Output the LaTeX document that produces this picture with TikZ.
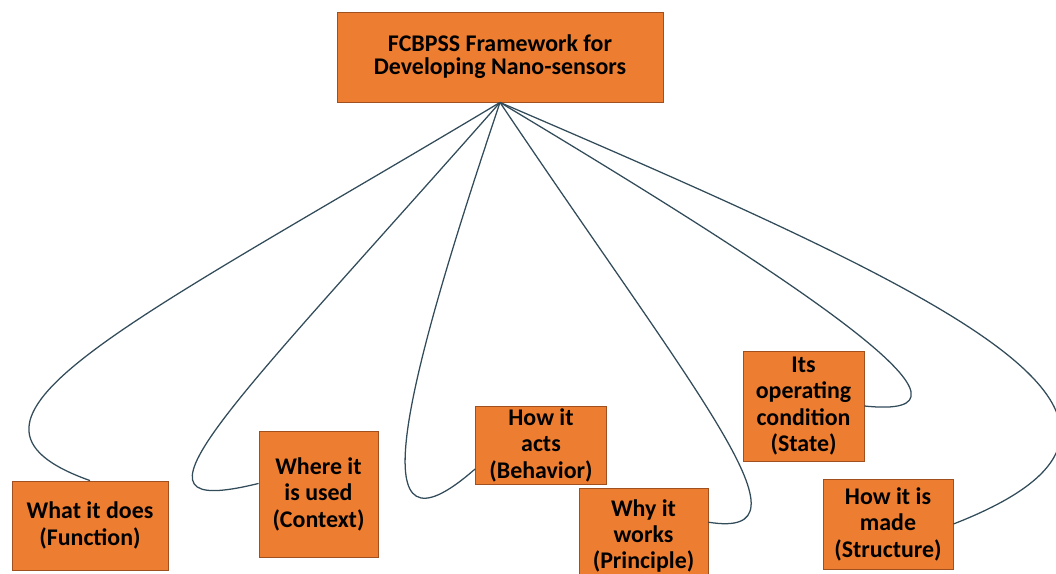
\documentclass[tikz,border=0pt]{standalone}
\usepackage{fontspec}
\setmainfont{Carlito}
\usepackage{tikz}
\definecolor{boxfill}{RGB}{237,125,49}
\definecolor{boxline}{RGB}{160,80,30}
\definecolor{linkcol}{RGB}{50,76,90}
\begin{document}
\begin{tikzpicture}[x=0.025cm,y=-0.025cm,
	fbox/.style={draw=boxline,line width=0.6pt,fill=boxfill,align=center,inner sep=0pt,
		font=\bfseries\fontsize{17}{18.8}\selectfont},
	link/.style={color=linkcol,line width=0.9pt}]
			\useasboundingbox (0,0) rectangle (1056,573);
			% boxes
			\node[fbox,minimum width=8.15cm,minimum height=2.25cm,font=\bfseries\fontsize{17}{16.3}\selectfont] (top) at (500,57) {FCBPSS Framework for\\Developing Nano-sensors};
			\node[fbox,minimum width=3.9cm,minimum height=2.225cm] (func) at (90,525.5) {What it does\\(Function)};
			\node[fbox,minimum width=2.975cm,minimum height=3.15cm] (ctx) at (318.5,494) {Where it\\is used\\(Context)};
			\node[fbox,minimum width=3.275cm,minimum height=1.95cm] (behav) at (541,445) {How it\\acts\\(Behavior)};
			\node[fbox,minimum width=3.225cm,minimum height=2.4cm] (princ) at (643.5,536) {Why it\\works\\(Principle)};
			\node[fbox,minimum width=3.025cm,minimum height=2.75cm] (state) at (803.5,406) {Its\\operating\\condition\\(State)};
			\node[fbox,minimum width=3.25cm,minimum height=2.25cm] (struct) at (888,524) {How it is\\made\\(Structure)};
			% curved links
			\draw [link] (top.south) .. controls (120,330) and (-80,420) .. (func.north);
			\draw [link] (top.south) .. controls (220,420) and (110,520) .. (ctx.170);
			\draw [link] (top.south) .. controls (400,400) and (360,570) .. (behav.200);
			\draw [link] (top.south) .. controls (700,400) and (820,540) .. (princ.12);
			\draw [link] (top.south) .. controls (830,300) and (1000,420) .. (state.east);
			\draw [link] (top.south) .. controls (960,300) and (1220,420) .. (struct.east);
\end{tikzpicture}
\end{document}
